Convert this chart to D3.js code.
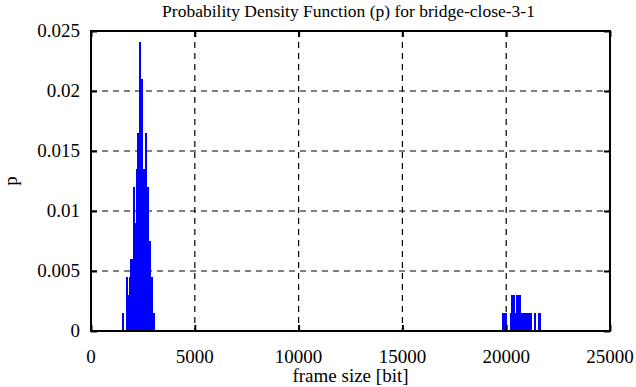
<!DOCTYPE html>
<html>
<head>
<meta charset="utf-8">
<script src="https://cdn.jsdelivr.net/npm/d3@7"></script>
<style>
  body { margin: 0; background: #fff; }
  svg text { font-family: "Liberation Serif", "DejaVu Serif", serif; fill: #000; }
</style>
</head>
<body>
<div id="chart"></div>
<script>
// frame size bins (bit), each bin is BIN bits wide
const BIN = 48;
const frameSizes = [
  1488, 1536, 1680, 1728, 1776, 1824, 1872, 1920, 1968, 2016, 2064, 2112,
  2160, 2208, 2256, 2304, 2352, 2400, 2448, 2496, 2544, 2592, 2640, 2688,
  2736, 2784, 2832, 2880, 2928, 2976, 3024,
  19776, 19824, 19872, 19920, 19968, 20160, 20208, 20256, 20304, 20352,
  20400, 20448, 20496, 20544, 20592, 20640, 20688, 20736, 20784, 20832,
  20880, 20928, 20976, 21024, 21072, 21120, 21168, 21216, 21360, 21408,
  21552, 21600, 21648
];
const probs = [
  0.0015, 0.0015, 0.0045, 0.0045, 0.003, 0.0045, 0.006, 0.006, 0.006, 0.012, 0.012, 0.009,
  0.0135, 0.0165, 0.0165, 0.0241, 0.0241, 0.021, 0.021, 0.0135, 0.0135, 0.0165, 0.0165, 0.012,
  0.012, 0.0075, 0.0075, 0.0045, 0.0045, 0.0015, 0.0015,
  0.0015, 0.0015, 0.0015, 0.0015, 0.0015, 0.0015, 0.003, 0.003, 0.003, 0.003,
  0.0015, 0.003, 0.003, 0.003, 0.003, 0.003, 0.003, 0.0015, 0.0015, 0.0015,
  0.0015, 0.0015, 0.0015, 0.0015, 0.0015, 0.0015, 0.0015, 0.0015, 0.0015, 0.0015,
  0.0015, 0.0015, 0.0015
];

const xTicks = [0, 5000, 10000, 15000, 20000, 25000];
const yTicks = [0, 0.005, 0.01, 0.015, 0.02, 0.025];
const yTickLabels = ["0", "0.005", "0.01", "0.015", "0.02", "0.025"];

const title = "Probability Density Function (p) for bridge-close-3-1";
const xLabel = "frame size [bit]";
const yLabel = "p";

const W = 636, H = 387;
const margin = { top: 31, right: 26, bottom: 56, left: 91 };
const iw = W - margin.left - margin.right;
const ih = H - margin.top - margin.bottom;
const serif = '"Liberation Serif", "DejaVu Serif", serif';

const svg = d3.select("#chart").append("svg")
  .attr("width", W)
  .attr("height", H);

const x = d3.scaleLinear().domain([0, 25000]).range([0, iw]);
const y = d3.scaleLinear().domain([0, 0.025]).range([ih, 0]);

const g = svg.append("g")
  .attr("transform", `translate(${margin.left},${margin.top})`);

// dashed grid
g.append("g")
  .selectAll("line")
  .data(xTicks.slice(1, -1))
  .join("line")
  .attr("x1", d => x(d)).attr("x2", d => x(d))
  .attr("y1", 0).attr("y2", ih)
  .attr("stroke", "#000")
  .attr("stroke-width", 1.2)
  .attr("stroke-dasharray", "6,5");

g.append("g")
  .selectAll("line")
  .data(yTicks.slice(1, -1))
  .join("line")
  .attr("x1", 0).attr("x2", iw)
  .attr("y1", d => y(d)).attr("y2", d => y(d))
  .attr("stroke", "#000")
  .attr("stroke-width", 1.2)
  .attr("stroke-dasharray", "6,5");

// bars
const bins = frameSizes.map((s, i) => ({ s: s, p: probs[i] }));
g.append("g")
  .selectAll("rect")
  .data(bins)
  .join("rect")
  .attr("x", d => Math.round(x(d.s)))
  .attr("width", d => Math.max(1, Math.round(x(d.s + BIN)) - Math.round(x(d.s))))
  .attr("y", d => Math.round(y(d.p)))
  .attr("height", d => ih - Math.round(y(d.p)))
  .attr("fill", "#0000ff")
  .attr("shape-rendering", "crispEdges");

// mirrored inward ticks
const tickLen = 6;
const axX = d3.axisBottom(x).tickValues(xTicks).tickSize(-tickLen).tickFormat("");
const axXTop = d3.axisTop(x).tickValues(xTicks).tickSize(-tickLen).tickFormat("");
const axY = d3.axisLeft(y).tickValues(yTicks).tickSize(-tickLen).tickFormat("");
const axYRight = d3.axisRight(y).tickValues(yTicks).tickSize(-tickLen).tickFormat("");

[[axX, `translate(0,${ih})`], [axXTop, "translate(0,0)"],
 [axY, "translate(0,0)"], [axYRight, `translate(${iw},0)`]].forEach(([ax, tr]) => {
  g.append("g")
    .attr("transform", tr)
    .call(ax)
    .call(s => s.select(".domain").remove())
    .call(s => s.selectAll(".tick line").attr("stroke", "#000").attr("stroke-width", 2));
});

// frame
g.append("rect")
  .attr("x", 0).attr("y", 0)
  .attr("width", iw).attr("height", ih)
  .attr("fill", "none")
  .attr("stroke", "#000")
  .attr("stroke-width", 2);

// tick labels
g.append("g")
  .selectAll("text")
  .data(xTicks)
  .join("text")
  .attr("x", d => x(d))
  .attr("y", ih + 32)
  .attr("text-anchor", "middle")
  .style("font-family", serif)
  .style("font-size", "19px")
  .text(d => d);

g.append("g")
  .selectAll("text")
  .data(yTicks)
  .join("text")
  .attr("x", -11)
  .attr("y", d => y(d))
  .attr("dy", "0.33em")
  .attr("text-anchor", "end")
  .style("font-family", serif)
  .style("font-size", "19px")
  .text((d, i) => yTickLabels[i]);

// titles
svg.append("text")
  .attr("x", margin.left + iw / 2 - 2)
  .attr("y", 17)
  .attr("text-anchor", "middle")
  .style("font-family", serif)
  .style("font-size", "17.5px")
  .text(title);

svg.append("text")
  .attr("x", margin.left + iw / 2)
  .attr("y", 382)
  .attr("text-anchor", "middle")
  .style("font-family", serif)
  .style("font-size", "19px")
  .text(xLabel);

svg.append("text")
  .attr("transform", `translate(17,${margin.top + ih / 2}) rotate(-90)`)
  .attr("text-anchor", "middle")
  .style("font-family", serif)
  .style("font-size", "19px")
  .text(yLabel);
</script>
</body>
</html>
